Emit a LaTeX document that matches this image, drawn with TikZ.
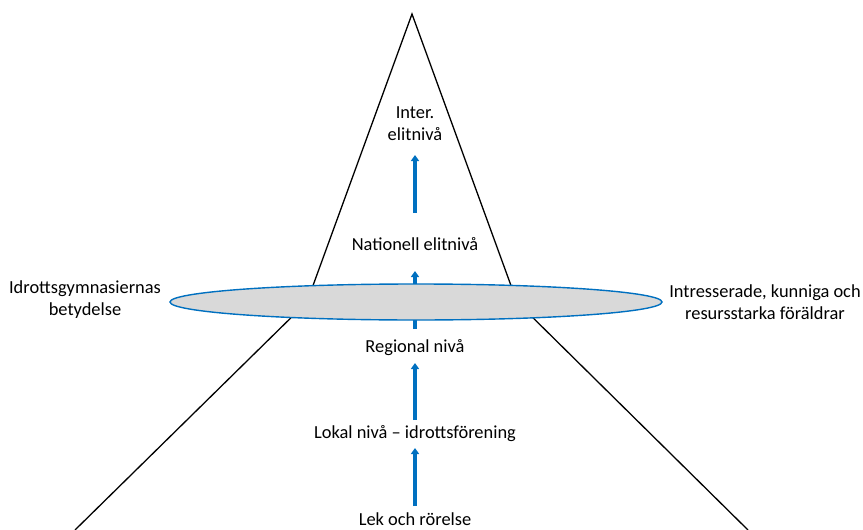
\documentclass[tikz,border=0pt]{standalone}
\usepackage{fontspec}
\setmainfont{Carlito}
\usetikzlibrary{arrows.meta,shapes.geometric}
\definecolor{lvlblue}{RGB}{0,112,192}
\definecolor{discgray}{RGB}{217,217,217}
\tikzset{
  >={Triangle[length=6pt,width=8pt]},
  {edge/.style} ={draw,line width=1.3pt,black},
  {level/.style} ={align=center,font=\fontsize{18.4}{22}\selectfont,inner sep=1pt},
  {side/.style} ={level},
  {step arrow/.style} ={->,line width=4pt,lvlblue},
  {disc/.style} ={draw=lvlblue,line width=1.4pt,fill=discgray},
}

\begin{document}
\begin{tikzpicture}[x=1pt,y=-1pt]
\useasboundingbox (0,0) rectangle (863,530);
% pyramid
\coordinate (top) at (412,14);
\coordinate (wl) at (307,302);
\coordinate (wr) at (517,302);
\coordinate (bl) at (75,530);
\coordinate (br) at (748,530);
\path[edge] (bl) -- (wl) -- (top) -- (wr) -- (br);
% arrow behind the disc
\coordinate (a2s) at (415,329);
\coordinate (a2e) at (415,271);
\draw[step arrow] (a2s) -- (a2e);
\node[disc,ellipse,minimum width=492pt,minimum height=36pt,inner sep=0] (disc) at (416,302) {};
% levels
\node[level] (inter) at (415,124) {Inter.\\elitnivå};
\node[level] (nat) at (415,244) {Nationell elitnivå};
\node[level] (reg) at (415,348) {Regional nivå};
\node[level] (lok) at (415,434) {Lokal nivå – idrottsförening};
\node[level] (lek) at (415,519) {Lek och rörelse};
\node[side] (gym) at (85,300) {Idrottsgymnasiernas\\betydelse};
\node[side] (par) at (765,302) {Intresserade, kunniga och\\resursstarka föräldrar};
% arrows
\coordinate (a1s) at (415,213);
\coordinate (a1e) at (415,155);
\coordinate (a3s) at (415,420);
\coordinate (a3e) at (415,363);
\coordinate (a4s) at (415,506);
\coordinate (a4e) at (415,448);
\foreach \i in {1,3,4}{
  \draw[step arrow] (a\i s) -- (a\i e);
}
\end{tikzpicture}
\end{document}
